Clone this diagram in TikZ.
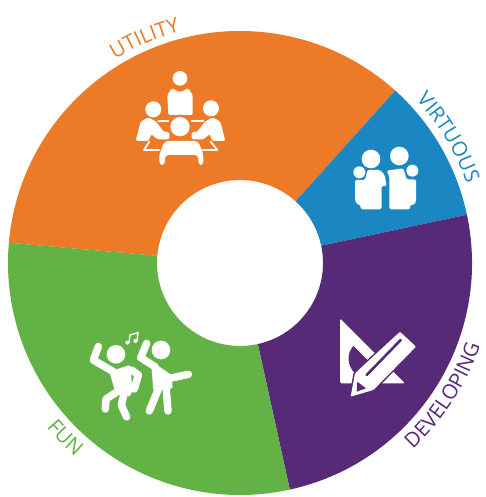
\documentclass[tikz,border=0pt]{standalone}
\usepackage{fontspec}
\setmainfont{Open Sans}
\usetikzlibrary{decorations.text}
\definecolor{cOrange}{HTML}{EC7A26}
\definecolor{cBlue}{HTML}{1B87C2}
\definecolor{cPurple}{HTML}{562A77}
\definecolor{cGreen}{HTML}{63B246}
\newcommand{\wedgeseg}[3]{\fill[#1] (#2:83) arc[start angle=#2,end angle=#3,radius=83] -- (#3:232) arc[start angle=#3,end angle=#2,radius=232] -- cycle;}
\newcommand{\curvedlabel}[5]{\path[decorate,decoration={text along path,text align=center,text={|\fontsize{20.5}{22}\selectfont\color{#1}|#2}}] (#3:#5) arc[start angle=#3,end angle=#4,radius=#5];}
\tikzset{
  limb/.style={white,line width=7.5pt,line cap=round,line join=round},
  tablebar/.style={white,line width=1.8pt,line cap=round,line join=round},
  icon/.style={fill=white,draw=none,rounded corners=1.5pt}
}
\begin{document}
\begin{tikzpicture}[x=1pt,y=1pt]
\useasboundingbox (-240,-234) rectangle (246,263);
\fill[white] (-240,-234) rectangle (246,263);
\wedgeseg{cOrange}{48}{175}
\wedgeseg{cBlue}{12}{48}
\wedgeseg{cPurple}{-77.6}{12}
\wedgeseg{cGreen}{175}{282.4}
\curvedlabel{cOrange}{UTILITY}{143}{83}{239}
\curvedlabel{cBlue}{VIRTUOUS}{61}{1}{240}
\curvedlabel{cPurple}{DEVELOPING}{-65}{-1}{254}
\curvedlabel{cGreen}{FUN}{210}{240}{254}
\begin{scope}[cm={1,0,0,-1,(-240pt,263pt)}]
% meeting icon
\begin{scope}[shift={(120,60)},scale=1/3]
\fill[white] (180,55) circle[radius=22];
\fill[icon] (145,165) -- (142,105) -- (155,85) -- (180,97) -- (205,85) -- (218,105) -- (218,165) -- cycle;
\fill[white] (100,148) circle[radius=24];
\fill[white] (273,145) circle[radius=24];
\draw[tablebar] (115,183) -- (145,183) (215,183) -- (250,183);
\draw[tablebar] (88,245) -- (72,270) -- (118,270) (272,245) -- (292,270) -- (248,270);
\fill[icon] (47,243) -- (62,185) -- (85,172) -- (108,185) -- (132,216) -- (148,216) -- (148,238) -- (112,238) -- (94,222) -- (86,243) -- cycle;
\fill[icon] (316,243) -- (301,185) -- (278,172) -- (255,185) -- (231,216) -- (215,216) -- (215,238) -- (251,238) -- (269,222) -- (277,243) -- cycle;
\fill[cOrange] (180,200) circle[radius=36];
\fill[white] (180,200) circle[radius=29];
\fill[white,rounded corners=3.5pt] (118,315) -- (118,282) -- (134,243) -- (234,243) -- (250,282) -- (250,315) -- (235,315) -- (235,285) -- (135,285) -- (135,315) -- cycle;
\end{scope}
% virtuous icon
\begin{scope}[shift={(340,80)},scale=1/3]
\fill[icon] (75,300) -- (82,270) -- (120,270) -- (134,285) -- (140,318) -- (125,318) -- (125,388) -- (62,388) -- (62,375) -- (50,372) -- (45,360) -- (45,300) -- cycle;
\fill[icon] (140,272) -- (190,265) -- (200,298) -- (228,298) -- (228,365) -- (222,375) -- (210,375) -- (210,388) -- (148,388) -- (148,290) -- cycle;
\fill[cBlue] (58,277) circle[radius=21];
\fill[cBlue] (217,272) circle[radius=21];
\fill[white] (58,277) circle[radius=18];
\fill[white] (217,272) circle[radius=18];
\fill[white] (93,237) circle[radius=28];
\fill[white] (178,228) circle[radius=28];
\end{scope}
% developing icon
\begin{scope}[shift={(330,310)},scale=1/3]
\fill[icon] (30,25) -- (225,220) -- (30,220) -- cycle;
\fill[cPurple] (70,108) -- (125,163) -- (75,190) .. controls (50,165) and (50,130) .. (70,108) -- cycle;
\draw[cPurple,line width=3pt,line join=round] (62,260) -- (75,190) -- (210,65) -- (258,110) -- (130,240) -- cycle;
\fill[white,rounded corners=1pt] (62,260) -- (75,190) -- (210,65) -- (258,110) -- (130,240) -- cycle;
\draw[cPurple,line width=2.6pt,line cap=round] (110,195) -- (212,90);
\fill[cPurple] (82,215) -- (108,235) -- (80,245) -- cycle;
\end{scope}
% fun icon
\begin{scope}[shift={(80,325)},scale=1/3]
\fill[white] (108,88) circle[radius=28];
\fill[white] (243,75) circle[radius=28];
\draw[limb] (55,65) -- (40,105) -- (100,140);
\draw[limb] (155,135) -- (175,150) -- (163,192);
\fill[icon] (88,140) -- (150,120) -- (158,195) -- (150,215) -- (108,208) -- cycle;
\draw[limb] (120,195) -- (78,222) -- (76,252);
\draw[limb] (130,215) -- (124,240) -- (140,276);
\draw[limb] (200,55) -- (182,98) -- (225,125);
\fill[icon] (213,108) -- (275,150) -- (278,190) -- (220,197) -- cycle;
\draw[limb] (270,160) -- (325,148);
\draw[limb] (238,185) -- (208,258);
\draw[limb] (258,185) -- (264,258);
\fill[white] (142,53) circle[radius=6];
\fill[white] (166,48) circle[radius=6];
\draw[white,line width=1.4pt] (147,53) -- (150,30) -- (174,23) -- (171,48);
\end{scope}
\end{scope}
\end{tikzpicture}
\end{document}
